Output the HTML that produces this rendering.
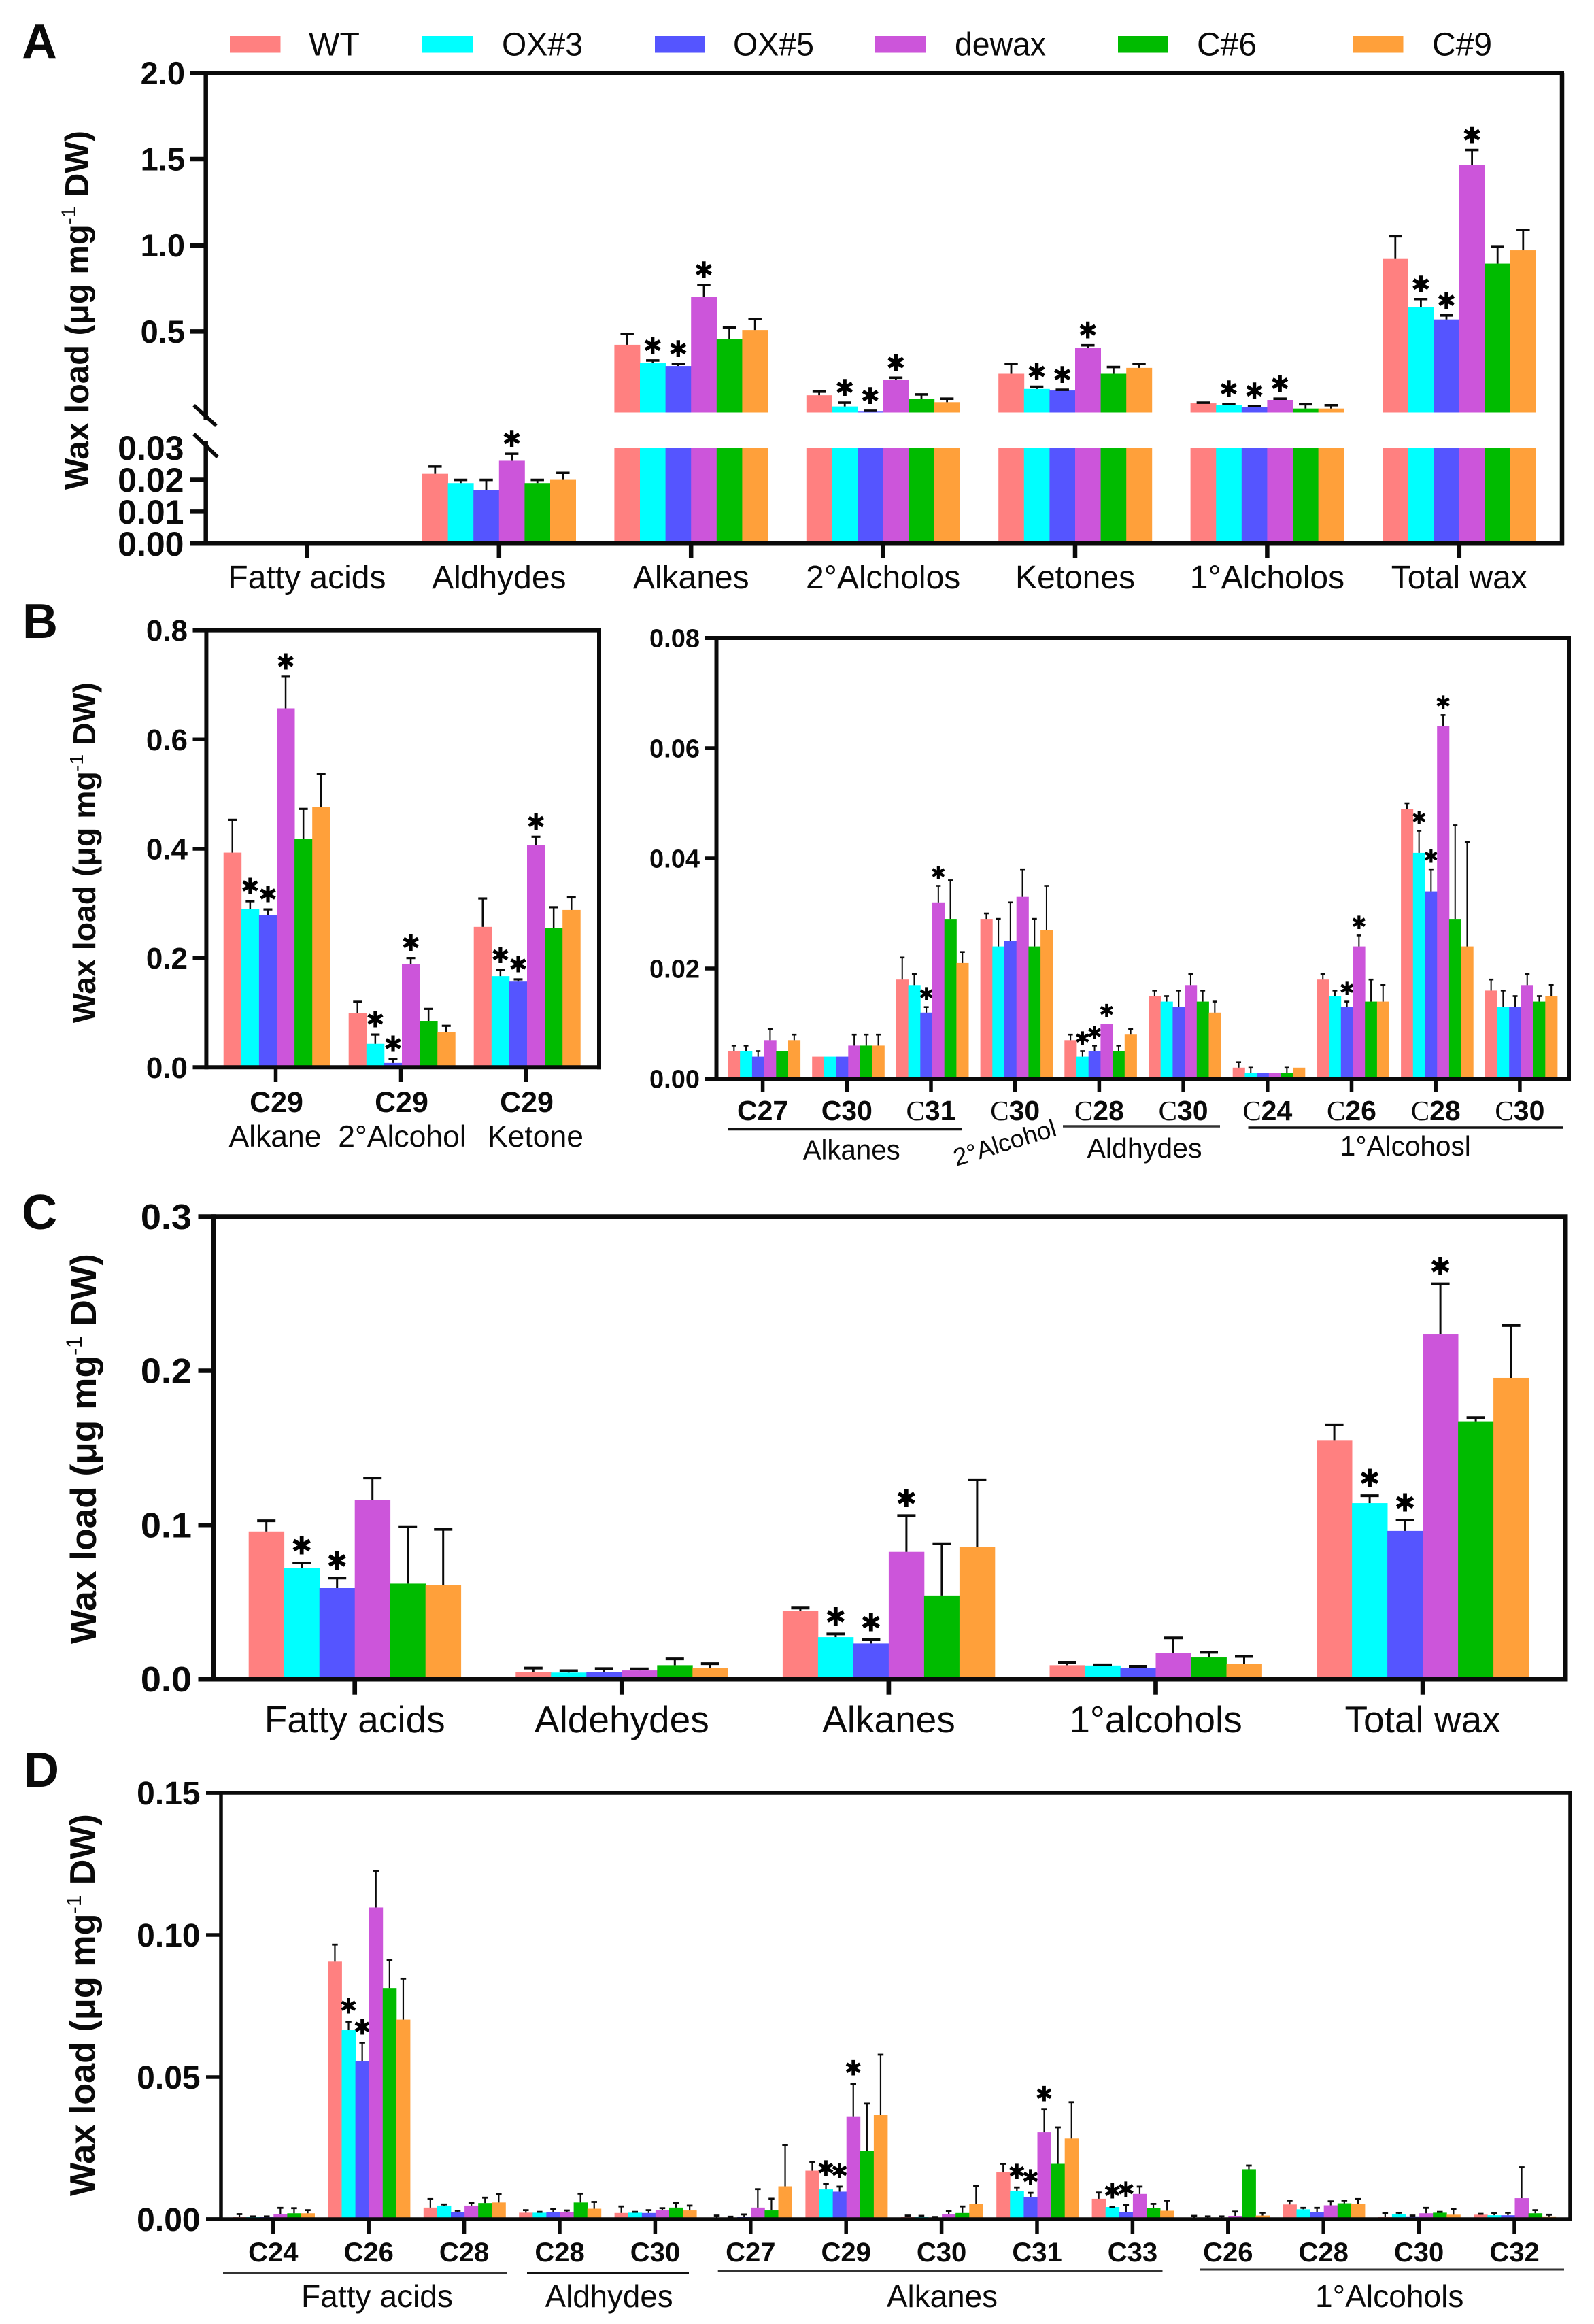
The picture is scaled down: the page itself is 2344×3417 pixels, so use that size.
<!DOCTYPE html>
<html lang="en">
<head>
<meta charset="utf-8">
<title>Wax load charts</title>
<style>
html,body{margin:0;padding:0;background:#fff;}
svg{display:block;font-family:"Liberation Sans",sans-serif;fill:#0a0a0a;}
</style>
</head>
<body>
<svg xmlns="http://www.w3.org/2000/svg" width="2344" height="3417" viewBox="0 0 2344 3417">
<rect width="2344" height="3417" fill="#fff"/>

<g font-weight="bold" font-size="72">
<text x="32" y="86">A</text>
<text x="33" y="938">B</text>
<text x="32" y="1807">C</text>
<text x="35" y="2627">D</text>
</g>

<g font-size="48">
<rect x="338" y="53" width="74.5" height="24.5" fill="#FF8080"/>
<text x="454" y="81.5" textLength="75" lengthAdjust="spacingAndGlyphs">WT</text>
<rect x="620" y="53" width="75" height="24.5" fill="#00FFFF"/>
<text x="738" y="81.5" textLength="119" lengthAdjust="spacingAndGlyphs">OX#3</text>
<rect x="963" y="53" width="74" height="24.5" fill="#5555FF"/>
<text x="1078" y="81.5" textLength="119" lengthAdjust="spacingAndGlyphs">OX#5</text>
<rect x="1286" y="53" width="75" height="24.5" fill="#CC55DA"/>
<text x="1404" y="81.5" textLength="134" lengthAdjust="spacingAndGlyphs">dewax</text>
<rect x="1644" y="53" width="73.5" height="24.5" fill="#00BB00"/>
<text x="1760" y="81.5" textLength="88" lengthAdjust="spacingAndGlyphs">C#6</text>
<rect x="1990" y="53" width="73.5" height="24.5" fill="#FFA03A"/>
<text x="2106" y="81.5" textLength="88" lengthAdjust="spacingAndGlyphs">C#9</text>
</g>

<g id="panelA"></g>
<g id="panelB1"></g>
<g id="panelB2"></g>
<g id="panelC"></g>
<g id="panelD"></g>

<text class="ytitle" data-len="528" transform="translate(130,720) rotate(-90)" font-size="49" font-weight="bold">Wax load (μg mg<tspan dy="-19" font-size="30" font-weight="normal">-1</tspan><tspan dy="19"> DW)</tspan></text>
<text class="ytitle" data-len="501" transform="translate(140,1504) rotate(-90)" font-size="46" font-weight="bold">Wax load (μg mg<tspan dy="-18" font-size="28" font-weight="normal">-1</tspan><tspan dy="18"> DW)</tspan></text>
<text class="ytitle" data-len="574" transform="translate(141,2417) rotate(-90)" font-size="53" font-weight="bold">Wax load (μg mg<tspan dy="-21" font-size="32" font-weight="normal">-1</tspan><tspan dy="21"> DW)</tspan></text>
<text class="ytitle" data-len="562" transform="translate(139,3229) rotate(-90)" font-size="52" font-weight="bold">Wax load (μg mg<tspan dy="-20" font-size="31" font-weight="normal">-1</tspan><tspan dy="20"> DW)</tspan></text>

<g font-size="41" stroke-linecap="butt">
<line x1="1070" y1="1660.5" x2="1415" y2="1660.5" stroke="#111" stroke-width="3.5"/>
<line x1="1563" y1="1656" x2="1794" y2="1656" stroke="#333" stroke-width="3.5"/>
<line x1="1835.5" y1="1658" x2="2298" y2="1658" stroke="#111" stroke-width="3.5"/>
<text x="1180.7" y="1704.5" textLength="143" lengthAdjust="spacingAndGlyphs">Alkanes</text>
<text x="1598.5" y="1702" textLength="169" lengthAdjust="spacingAndGlyphs">Aldhydes</text>
<text x="1970.8" y="1699" textLength="192" lengthAdjust="spacingAndGlyphs">1°Alcohosl</text>
<text transform="translate(1481,1692) rotate(-17)" text-anchor="middle" font-size="36" textLength="156" lengthAdjust="spacingAndGlyphs">2°Alcohol</text>
</g>

<g font-size="46">
<line x1="328" y1="3342.5" x2="745" y2="3342.5" stroke="#333" stroke-width="3"/>
<line x1="775" y1="3342.5" x2="1013" y2="3342.5" stroke="#111" stroke-width="3"/>
<line x1="1055.7" y1="3339" x2="1709.5" y2="3339" stroke="#333" stroke-width="3"/>
<line x1="1764" y1="3337" x2="2300" y2="3337" stroke="#333" stroke-width="3"/>
<text x="443" y="3392" textLength="223" lengthAdjust="spacingAndGlyphs">Fatty acids</text>
<text x="801.6" y="3392" textLength="188" lengthAdjust="spacingAndGlyphs">Aldhydes</text>
<text x="1304" y="3392" textLength="163" lengthAdjust="spacingAndGlyphs">Alkanes</text>
<text x="1934" y="3392" textLength="218.5" lengthAdjust="spacingAndGlyphs">1°Alcohols</text>
</g>
</svg>

<script>
/* ---------- series ---------- */
const seriesNames = ['WT','OX3','OX5','dewax','C6','C9'];
const seriesColors = ['#FF8080','#00FFFF','#5555FF','#CC55DA','#00BB00','#FFA03A'];

/* ---------- panel A ---------- */
const aCategories = ['Fatty acids','Aldhydes','Alkanes','2°Alcholos','Ketones','1°Alcholos','Total wax'];
const aTicksUpper = [0.5,1.0,1.5,2.0];
const aTicksLower = [0,0.01,0.02,0.03];
const aWT    = [0,0.0219,0.423,0.13,0.255,0.083,0.921];
const aOX3   = [0,0.019,0.316,0.065,0.167,0.072,0.643];
const aOX5   = [0,0.0168,0.30,0.035,0.158,0.06,0.57];
const aDewax = [0,0.026,0.70,0.221,0.405,0.103,1.467];
const aC6    = [0,0.019,0.456,0.11,0.255,0.053,0.894];
const aC9    = [0,0.02,0.509,0.09,0.289,0.053,0.971];
const aWTErr    = [0,0.0023,0.063,0.021,0.057,0.004,0.132];
const aOX3Err   = [0,0.001,0.016,0.022,0.013,0.008,0.045];
const aOX5Err   = [0,0.0032,0.012,0.005,0.004,0.007,0.023];
const aDewaxErr = [0,0.0022,0.07,0.011,0.015,0.007,0.086];
const aC6Err    = [0,0.001,0.068,0.025,0.039,0.025,0.10];
const aC9Err    = [0,0.0022,0.063,0.02,0.023,0.019,0.118];
const aStarOX3   = [2,3,4,5,6];
const aStarOX5   = [2,3,4,5,6];
const aStarDewax = [1,2,3,4,5,6];

/* ---------- panel B left ---------- */
const b1Categories = ['C29','C29','C29'];
const b1Classes = ['Alkane','2°Alcohol','Ketone'];
const b1Ticks = [0,0.2,0.4,0.6,0.8];
const b1WT    = [0.393,0.099,0.257];
const b1OX3   = [0.29,0.043,0.167];
const b1OX5   = [0.278,0.008,0.157];
const b1Dewax = [0.657,0.189,0.407];
const b1C6    = [0.418,0.085,0.255];
const b1C9    = [0.476,0.065,0.288];
const b1WTErr    = [0.06,0.021,0.052];
const b1OX3Err   = [0.014,0.017,0.011];
const b1OX5Err   = [0.011,0.007,0.004];
const b1DewaxErr = [0.058,0.011,0.015];
const b1C6Err    = [0.055,0.022,0.038];
const b1C9Err    = [0.061,0.011,0.023];
const b1StarOX3   = [0,1,2];
const b1StarOX5   = [0,1,2];
const b1StarDewax = [0,1,2];

/* ---------- panel B right ---------- */
const b2Categories = ['C27','C30','C31','C30','C28','C30','C24','C26','C28','C30'];
const b2ThinPrefix = [false,false,true,true,true,true,true,true,true,true];
const b2Ticks = [0,0.02,0.04,0.06,0.08];
const b2WT    = [0.005,0.004,0.018,0.029,0.007,0.015,0.002,0.018,0.049,0.016];
const b2OX3   = [0.005,0.004,0.017,0.024,0.004,0.014,0.001,0.015,0.041,0.013];
const b2OX5   = [0.004,0.004,0.012,0.025,0.005,0.013,0.001,0.013,0.034,0.013];
const b2Dewax = [0.007,0.006,0.032,0.033,0.01,0.017,0.001,0.024,0.064,0.017];
const b2C6    = [0.005,0.006,0.029,0.024,0.005,0.014,0.001,0.014,0.029,0.014];
const b2C9    = [0.007,0.006,0.021,0.027,0.008,0.012,0.002,0.014,0.024,0.015];
const b2WTErr    = [0.001,0,0.004,0.001,0.001,0.001,0.001,0.001,0.001,0.002];
const b2OX3Err   = [0.001,0,0.002,0.005,0.001,0.001,0.001,0.001,0.004,0.003];
const b2OX5Err   = [0.001,0,0.001,0.007,0.001,0.003,0,0.001,0.004,0.002];
const b2DewaxErr = [0.002,0.002,0.003,0.005,0,0.002,0,0.002,0.002,0.002];
const b2C6Err    = [0,0.002,0.007,0.005,0.001,0.002,0.001,0.004,0.017,0.001];
const b2C9Err    = [0.001,0.002,0.002,0.008,0.001,0.002,0,0.003,0.019,0.002];
const b2StarOX3   = [4,8];
const b2StarOX5   = [2,4,7,8];
const b2StarDewax = [2,4,7,8];

/* ---------- panel C ---------- */
const cCategories = ['Fatty acids','Aldehydes','Alkanes','1°alcohols','Total wax'];
const cTicks = [0,0.1,0.2,0.3];
const cWT    = [0.0958,0.0048,0.0443,0.0091,0.1551];
const cOX3   = [0.0723,0.0043,0.0273,0.0089,0.1142];
const cOX5   = [0.0591,0.0048,0.0232,0.0072,0.0962];
const cDewax = [0.1161,0.0057,0.0826,0.0168,0.2236];
const cC6    = [0.062,0.0091,0.0543,0.0141,0.1669];
const cC9    = [0.0613,0.0072,0.0857,0.0098,0.1954];
const cWTErr    = [0.0069,0.0024,0.0019,0.0019,0.0099];
const cOX3Err   = [0.0031,0.0012,0.0021,0.0004,0.0048];
const cOX5Err   = [0.0065,0.0021,0.0024,0.0012,0.007];
const cDewaxErr = [0.0144,0.001,0.0235,0.01,0.0328];
const cC6Err    = [0.0369,0.0041,0.0336,0.0034,0.0028];
const cC9Err    = [0.0359,0.0029,0.0436,0.005,0.034];
const cStarOX3   = [0,2,4];
const cStarOX5   = [0,2,4];
const cStarDewax = [2,4];

/* ---------- panel D ---------- */
const dCategories = ['C24','C26','C28','C28','C30','C27','C29','C30','C31','C33','C26','C28','C30','C32'];
const dTicks = [0,0.05,0.10,0.15];
const dWT    = [0.0008,0.0906,0.0041,0.0023,0.0022,0.0006,0.0171,0.0008,0.0165,0.0072,0.0005,0.0052,0.0008,0.0016];
const dOX3   = [0.0008,0.0665,0.0048,0.0023,0.0023,0.0005,0.0105,0.0008,0.0099,0.0043,0.0005,0.0035,0.0019,0.0014];
const dOX5   = [0.0009,0.0556,0.0026,0.0026,0.0022,0.0009,0.0097,0.0005,0.0079,0.0025,0.0005,0.0026,0.001,0.0014];
const dDewax = [0.0019,0.1097,0.0048,0.0026,0.0032,0.0041,0.0362,0.0017,0.0306,0.0089,0.0012,0.0049,0.0021,0.0074];
const dC6    = [0.0021,0.0813,0.0057,0.0059,0.0041,0.0031,0.024,0.0022,0.0195,0.004,0.0176,0.0056,0.0023,0.0021];
const dC9    = [0.0021,0.0702,0.0059,0.0037,0.0031,0.0116,0.0368,0.0053,0.0284,0.003,0.0013,0.0053,0.0016,0.001];
const dWTErr    = [0.001,0.006,0.003,0.0009,0.0023,0.0007,0.0031,0.0005,0.003,0.0022,0.0007,0.0014,0.0014,0.0003];
const dOX3Err   = [0.0002,0.003,0.0004,0.0003,0.0003,0.0004,0.002,0.0004,0.0013,0.0001,0.0005,0.0005,0.0004,0.0007];
const dOX5Err   = [0.0001,0.0065,0.0004,0.001,0.001,0.0008,0.0018,0.0003,0.0014,0.0025,0.0005,0.0014,0.0003,0.0009];
const dDewaxErr = [0.0021,0.0129,0.001,0.0005,0.0007,0.0065,0.0115,0.0011,0.008,0.0026,0.0015,0.0014,0.0019,0.0109];
const dC6Err    = [0.0018,0.0099,0.0019,0.0031,0.0017,0.0041,0.0167,0.0023,0.0128,0.0014,0.0013,0.001,0.0003,0.0011];
const dC9Err    = [0.0011,0.0144,0.0029,0.0024,0.0017,0.0144,0.0211,0.0065,0.0128,0.0036,0.001,0.0018,0.0019,0.0006];
const dStarOX3   = [1,6,8,9];
const dStarOX5   = [1,6,8,9];
const dStarDewax = [6,8];

/* ---------- helpers ---------- */
const NS = 'http://www.w3.org/2000/svg';
const INK = '#0a0a0a';

function addLine(parent, x1, y1, x2, y2, w, color) {
  const l = document.createElementNS(NS, 'line');
  l.setAttribute('x1', x1); l.setAttribute('y1', y1);
  l.setAttribute('x2', x2); l.setAttribute('y2', y2);
  l.setAttribute('stroke', color || INK);
  l.setAttribute('stroke-width', w);
  parent.appendChild(l);
  return l;
}
function addText(parent, str, x, y, size, weight, sx, anchor) {
  const t = document.createElementNS(NS, 'text');
  t.setAttribute('transform', 'translate(' + x + ',' + y + ') scale(' + sx + ',1)');
  t.setAttribute('font-size', size);
  t.setAttribute('font-weight', weight);
  t.setAttribute('text-anchor', anchor);
  t.textContent = str;
  parent.appendChild(t);
  return t;
}
function slug(s) {
  return String(s).toLowerCase().replace(/[^a-z0-9]+/g, '-');
}

/* Draws bars, error bars and significance stars through the panel's axis functions. */
function drawMarks(g, p) {
  const groupW = p.barW * 6;
  p.values.forEach(function (vals, s) {
    vals.forEach(function (v, c) {
      if (v <= 0) return;
      const left = p.x(c) + p.barOffset - groupW / 2 + s * p.barW;
      p.segments(v).forEach(function (seg) {
        const r = document.createElementNS(NS, 'rect');
        
        
        r.setAttribute('x', left);
        r.setAttribute('y', seg[0]);
        r.setAttribute('width', p.barW + 0.4);
        r.setAttribute('height', Math.max(0, seg[1] - seg[0]));
        r.setAttribute('fill', seriesColors[s]);
        g.appendChild(r);
      });
      const cx = left + p.barW / 2;
      const e = p.errors[s][c];
      const top = p.y(v + e);
      if (e > 0) {
        const stem = addLine(g, cx, p.y(v), cx, top, p.errW);
        
        
        const cap = addLine(g, cx - p.capW / 2, top, cx + p.capW / 2, top, p.capT);
        
        
      }
      if (p.stars[s] && p.stars[s].indexOf(c) >= 0) {
        const st = document.createElementNS(NS, 'text');
        
        
        st.setAttribute('x', cx);
        st.setAttribute('y', top - p.starDy);
        st.setAttribute('font-family', '"DejaVu Sans",sans-serif');
        st.setAttribute('font-size', p.starSize);
        st.setAttribute('text-anchor', 'middle');
        st.setAttribute('dominant-baseline', 'central');
        st.setAttribute('fill', '#000');
        st.textContent = '\u2731';
        g.appendChild(st);
      }
    });
  });
}

/* ---------- panel A ---------- */
(function () {
  const g = document.getElementById('panelA');
  const L = 302.7, R = 2297, T = 107.3, B = 799.3;
  const yUp = function (v) { return 107.3 + (2 - v) * 253.4; };
  const yLo = function (v) { return 799.3 - v * 4687; };
  const BREAK = 0.03;
  const y = function (v) { return v <= BREAK ? yLo(v) : yUp(v); };
  const x = function (c) { return 451.4 + 282.4 * c; };
  const segments = function (v) {
    if (v <= BREAK) return [[yLo(v), yLo(0)]];
    return [[yUp(v), yUp(BREAK)], [yLo(BREAK), yLo(0)]];
  };
  drawMarks(g, {
    categories: aCategories, x: x, y: y, segments: segments,
    values: [aWT, aOX3, aOX5, aDewax, aC6, aC9],
    errors: [aWTErr, aOX3Err, aOX5Err, aDewaxErr, aC6Err, aC9Err],
    stars: [null, aStarOX3, aStarOX5, aStarDewax, null, null],
    barW: 37.6, barOffset: 0, errW: 2.8, capT: 3.6, capW: 19.5, starDy: 21, starSize: 34
  });
  const f1 = addLine(g, 280, T, R + 3, T, 6.5);
  
  
  const f2 = addLine(g, R, T, R, B + 3, 6.5);
  
  
  const f3 = addLine(g, 280, B, R + 3, B, 6.5);
  
  
  const f4 = addLine(g, L, T - 3, L, 617, 6.5);
  
  
  const f5 = addLine(g, L, 648, L, B, 6.5);
  
  
  const b1 = addLine(g, 285, 596, 318, 626, 5.5);
  
  
  const b2 = addLine(g, 285, 638, 320, 672, 5.5);
  
  
  aTicksUpper.forEach(function (v) {
    const t = addLine(g, 280, yUp(v), L, yUp(v), 6.5);
    
    
    const l = addText(g, v.toFixed(1), 272, yUp(v) + 16.5, 47, 'bold', 1, 'end');
    
    
  });
  aTicksLower.forEach(function (v) {
    if (v > 0 && v < 0.03) {
      const t = addLine(g, 280, yLo(v), L, yLo(v), 6.5);
      
      
    }
    const l = addText(g, v.toFixed(2), 270.5, yLo(v) + 17.5, 50, 'bold', 1, 'end');
    
    
  });
  aCategories.forEach(function (c, i) {
    const t = addLine(g, x(i), B, x(i), 821, 6.5);
    
    
    const l = addText(g, c, x(i), 865, 48, 'normal', 1, 'middle');
    
    
  });
})();

/* Generic single-scale panel frame */
function frame(g, L, R, T, B, tickLeft, sw) {
  const a = addLine(g, tickLeft, T, R + sw / 2, T, sw);
  
  
  const b = addLine(g, R, T, R, B + sw / 2, sw);
  
  
  const c = addLine(g, tickLeft, B, R + sw / 2, B, sw);
  
  
  const d = addLine(g, L, T - sw / 2, L, B + sw / 2, sw);
  
  
}

/* ---------- panel B left ---------- */
(function () {
  const g = document.getElementById('panelB1');
  const L = 303.4, R = 881, T = 926.6, B = 1569.3;
  const y = function (v) { return B - v * (B - T) / 0.8; };
  const x = function (c) { return 405.5 + 184 * c; };
  drawMarks(g, {
    categories: b1Categories, x: x, y: y,
    segments: function (v) { return [[y(v), B]]; },
    values: [b1WT, b1OX3, b1OX5, b1Dewax, b1C6, b1C9],
    errors: [b1WTErr, b1OX3Err, b1OX5Err, b1DewaxErr, b1C6Err, b1C9Err],
    stars: [null, b1StarOX3, b1StarOX5, b1StarDewax, null, null],
    barW: 26.1, barOffset: 1.5, errW: 2.5, capT: 3.2, capW: 13, starDy: 22, starSize: 33
  });
  frame(g, L, R, T, B, 283.5, 6);
  b1Ticks.forEach(function (v) {
    const t = addLine(g, 283.5, y(v), L, y(v), 5.5);
    
    
    const l = addText(g, v.toFixed(1), 276, y(v) + 15.5, 44, 'bold', 1, 'end');
    
    
  });
  b1Categories.forEach(function (c, i) {
    const t = addLine(g, x(i), B, x(i), 1591, 5.5);
    
    
    const l = addText(g, c, x(i) + 1, 1635, 43, 'bold', 1, 'middle');
    
    
    const n = addText(g, b1Classes[i], x(i) + (i === 2 ? 14 : (i === 1 ? 2 : -1)), 1686, 44.5, 'normal', 1, 'middle');
    
    
  });
})();

/* ---------- panel B right ---------- */
(function () {
  const g = document.getElementById('panelB2');
  const L = 1053.5, R = 2307, T = 938, B = 1586;
  const y = function (v) { return B - v * (B - T) / 0.08; };
  const x = function (c) { return 1121.6 + 123.7 * c; };
  drawMarks(g, {
    categories: b2Categories, x: x, y: y,
    segments: function (v) { return [[y(v), B]]; },
    values: [b2WT, b2OX3, b2OX5, b2Dewax, b2C6, b2C9],
    errors: [b2WTErr, b2OX3Err, b2OX5Err, b2DewaxErr, b2C6Err, b2C9Err],
    stars: [null, b2StarOX3, b2StarOX5, b2StarDewax, null, null],
    barW: 17.7, barOffset: 2, errW: 2, capT: 2.6, capW: 7, starDy: 18, starSize: 27
  });
  frame(g, L, R, T, B, 1036, 6);
  b2Ticks.forEach(function (v) {
    const t = addLine(g, 1036, y(v), L, y(v), 5.5);
    
    
    const l = addText(g, v.toFixed(2), 1029, y(v) + 13.5, 38, 'bold', 1, 'end');
    
    
  });
  b2Categories.forEach(function (c, i) {
    const t = addLine(g, x(i), B, x(i), 1606, 5.5);
    
    
    const l = addText(g, '', x(i), 1647, 41, 'bold', 1, 'middle');
    
    
    const head = document.createElementNS(NS, 'tspan');
    if (b2ThinPrefix[i]) {
      head.setAttribute('font-family', '"Liberation Serif",serif');
      head.setAttribute('font-weight', 'normal');
    }
    head.textContent = c.charAt(0);
    l.appendChild(head);
    l.appendChild(document.createTextNode(c.slice(1)));
  });
})();

/* ---------- panel C ---------- */
(function () {
  const g = document.getElementById('panelC');
  const L = 314, R = 2302, T = 1788.8, B = 2469;
  const y = function (v) { return B - v * (B - T) / 0.3; };
  const x = function (c) { return 521.7 + 392.6 * c; };
  drawMarks(g, {
    categories: cCategories, x: x, y: y,
    segments: function (v) { return [[y(v), B]]; },
    values: [cWT, cOX3, cOX5, cDewax, cC6, cC9],
    errors: [cWTErr, cOX3Err, cOX5Err, cDewaxErr, cC6Err, cC9Err],
    stars: [null, cStarOX3, cStarOX5, cStarDewax, null, null],
    barW: 52, barOffset: 0, errW: 3, capT: 4, capW: 27, starDy: 25, starSize: 37
  });
  frame(g, L, R, T, B, 291.5, 7);
  cTicks.forEach(function (v) {
    const t = addLine(g, 291.5, y(v), L, y(v), 6.5);
    
    
    const l = addText(g, v.toFixed(1), 282, y(v) + 18, 52, 'bold', 1.04, 'end');
    
    
  });
  cCategories.forEach(function (c, i) {
    const t = addLine(g, x(i), B, x(i), 2491.7, 6.7);
    
    
    const l = addText(g, c, x(i), 2547, 55, 'normal', 1, 'middle');
    
    
  });
})();

/* ---------- panel D ---------- */
(function () {
  const g = document.getElementById('panelD');
  const L = 325, R = 2309, T = 2636, B = 3263;
  const y = function (v) { return B - v * (B - T) / 0.15; };
  const x = function (c) { return 401.8 + 140.4 * c; };
  drawMarks(g, {
    categories: dCategories, x: x, y: y,
    segments: function (v) { return [[y(v), B]]; },
    values: [dWT, dOX3, dOX5, dDewax, dC6, dC9],
    errors: [dWTErr, dOX3Err, dOX5Err, dDewaxErr, dC6Err, dC9Err],
    stars: [null, dStarOX3, dStarOX5, dStarDewax, null, null],
    barW: 20.1, barOffset: 0.5, errW: 2.2, capT: 2.8, capW: 8.5, starDy: 22, starSize: 31
  });
  frame(g, L, R, T, B, 303, 5.5);
  dTicks.forEach(function (v) {
    const t = addLine(g, 303, y(v), L, y(v), 5.5);
    
    
    const l = addText(g, v.toFixed(2), 294.6, y(v) + 17, 48, 'bold', 1, 'end');
    
    
  });
  dCategories.forEach(function (c, i) {
    const t = addLine(g, x(i), B, x(i), 3284, 5.5);
    
    
    const l = addText(g, c, x(i), 3325, 40, 'bold', 1, 'middle');
    
    
  });
})();

/* Fit rotated y-axis titles to their measured span */
document.querySelectorAll('.ytitle').forEach(function (t) {
  const target = parseFloat(t.getAttribute('data-len'));
  const natural = t.getComputedTextLength();
  t.setAttribute('transform', t.getAttribute('transform') + ' scale(' + (target / natural) + ',1)');
});
</script>
</body>
</html>
